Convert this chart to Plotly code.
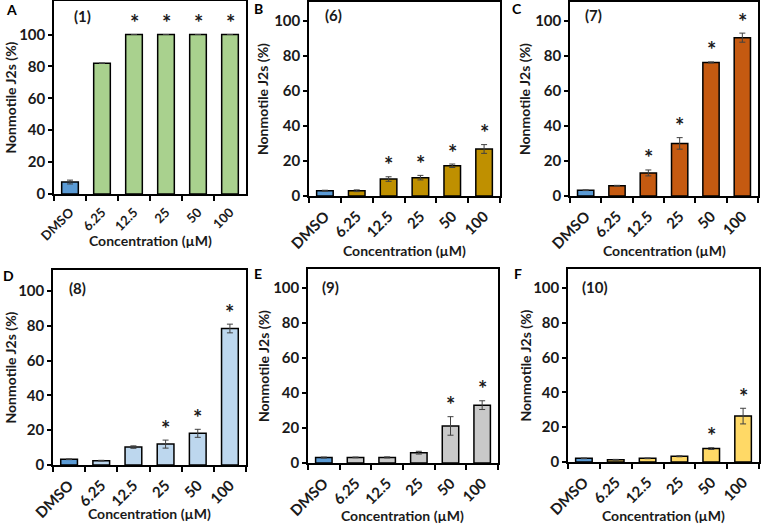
import plotly.graph_objects as go

W, H = 763, 530

categories = ["DMSO", "6.25", "12.5", "25", "50", "100"]
y_ticks = [0, 20, 40, 60, 80, 100]

panel_letters = ["A", "B", "C", "D", "E", "F"]
compound_labels = ["(1)", "(6)", "(7)", "(8)", "(9)", "(10)"]

vals_1 = [7.5, 82.0, 100.0, 100.0, 100.0, 100.0]
err_1 = [1.2, 0.0, 0.0, 0.0, 0.0, 0.0]
sig_1 = [False, False, True, True, True, True]

vals_6 = [3.0, 3.0, 9.7, 10.5, 17.3, 26.9]
err_6 = [0.3, 0.5, 1.3, 1.3, 1.0, 2.5]
sig_6 = [False, False, True, True, True, True]

vals_7 = [3.3, 5.9, 13.2, 30.1, 76.4, 90.6]
err_7 = [0.2, 0.2, 1.7, 3.3, 0.3, 2.6]
sig_7 = [False, False, True, True, True, True]

vals_8 = [3.3, 2.5, 10.3, 12.0, 18.2, 78.4]
err_8 = [0.2, 0.2, 0.7, 2.3, 2.3, 2.5]
sig_8 = [False, False, False, True, True, True]

vals_9 = [3.1, 3.2, 3.2, 5.9, 21.2, 33.1]
err_9 = [0.3, 0.2, 0.3, 0.8, 5.3, 2.5]
sig_9 = [False, False, False, False, True, True]

vals_10 = [2.1, 1.3, 2.1, 3.3, 7.7, 26.4]
err_10 = [0.2, 0.2, 0.2, 0.3, 0.5, 4.5]
sig_10 = [False, False, False, False, True, True]

DMSO_COLOR = "#5B9BD5"
panel_colors = ["#A9D18E", "#BF9000", "#C55A11", "#BDD7EE", "#C9C9C9", "#FFD966"]

all_vals = [vals_1, vals_6, vals_7, vals_8, vals_9, vals_10]
all_errs = [err_1, err_6, err_7, err_8, err_9, err_10]
all_sigs = [sig_1, sig_6, sig_7, sig_8, sig_9, sig_10]
y_max = [121, 111, 111, 112, 111, 111]

# pixel boxes (left, right, top, bottom)
boxes = [
    (54, 246, 1, 194),
    (309, 500, 2, 196),
    (570, 758, 2, 196),
    (53, 246, 270, 465),
    (308, 498, 269, 463),
    (568, 759, 269, 462),
]
letter_pos = [(12, 10), (258, 9), (517, 9), (8, 275), (258, 273), (518, 273)]
label_pos = [(82, 16), (333, 15), (593, 15), (77, 288), (330, 287), (595, 287)]
ytitle_x = [10, 263, 525, 10, 263, 525]
xtitle_y = [240, 250, 250, 513, 515, 515]
xtick_size = [13, 15, 15, 15, 15, 15]

FONT = "Lato"
fig = go.Figure()
annotations = []

def px(x):
    return x / W

def py(y):
    return 1 - y / H

for i in range(6):
    n = "" if i == 0 else str(i + 1)
    xa, ya = "x" + n, "y" + n
    colors = [DMSO_COLOR] + [panel_colors[i]] * 5
    fig.add_trace(go.Bar(
        x=categories, y=all_vals[i], xaxis=xa, yaxis=ya,
        marker=dict(color=colors, line=dict(color="black", width=1.5)),
        error_y=dict(type="data", array=all_errs[i], color="#404040",
                     thickness=1, width=3),
        showlegend=False, width=0.52,
    ))
    l, r, t, b = boxes[i]
    fig.layout["xaxis" + n] = dict(
        domain=[px(l), px(r)], anchor=ya, type="category", automargin=False,
        categoryorder="array", categoryarray=categories,
        range=[-0.5, len(categories) - 0.5],
        showline=True, linecolor="black", linewidth=1.5, mirror=True,
        ticks="outside", tickson="boundaries", ticklen=5, tickcolor="black",
        tickwidth=1.5, tickangle=-45, showgrid=False, ticklabelstandoff=4,
        tickfont=dict(family=FONT, size=xtick_size[i], color="#1a1a1a",
                      weight="bold"),
    )
    fig.layout["yaxis" + n] = dict(
        domain=[py(b), py(t)], anchor=xa, range=[0, y_max[i]], automargin=False,
        tickvals=y_ticks, showline=True, linecolor="black", linewidth=1.5,
        mirror=True, ticks="outside", ticklen=4, tickcolor="black",
        tickwidth=1.5, showgrid=False, zeroline=False,
        tickfont=dict(family=FONT, size=15, color="#1a1a1a", weight="bold"),
    )
    for j, (v, e, s) in enumerate(zip(all_vals[i], all_errs[i], all_sigs[i])):
        if s:
            annotations.append(dict(
                x=j, y=v + e, xref=xa, yref=ya, text="*", showarrow=False,
                yshift=12, yanchor="middle",
                font=dict(family=FONT, size=22, color="#1a1a1a", weight="bold"),
            ))
    lx, ly = letter_pos[i]
    annotations.append(dict(x=px(lx), y=py(ly), xref="paper", yref="paper",
                            text="<b>%s</b>" % panel_letters[i], showarrow=False,
                            xanchor="center", yanchor="middle",
                            font=dict(family=FONT, size=14, color="black")))
    cx, cy = label_pos[i]
    annotations.append(dict(x=px(cx), y=py(cy), xref="paper", yref="paper",
                            text="<b>%s</b>" % compound_labels[i], showarrow=False,
                            xanchor="center", yanchor="middle",
                            font=dict(family=FONT, size=15, color="#1a1a1a")))
    annotations.append(dict(x=px(ytitle_x[i]), y=py((t + b) / 2), xref="paper",
                            yref="paper", text="<b>Nonmotile J2s (%)</b>",
                            showarrow=False, textangle=-90,
                            xanchor="center", yanchor="middle",
                            font=dict(family=FONT, size=14, color="#1a1a1a")))
    annotations.append(dict(x=px((l + r) / 2), y=py(xtitle_y[i]), xref="paper",
                            yref="paper", text="<b>Concentration (µM)</b>",
                            showarrow=False, xanchor="center", yanchor="middle",
                            font=dict(family=FONT, size=14, color="#1a1a1a")))

fig.update_layout(
    width=W, height=H, margin=dict(l=0, r=0, t=0, b=0, autoexpand=False),
    paper_bgcolor="white", plot_bgcolor="white",
    annotations=annotations, bargap=0.48,
)

fig.write_html(
    "out.html",
    config={"displayModeBar": False},
    post_script="document.body.style.margin='0';document.body.style.overflow='hidden';",
)
